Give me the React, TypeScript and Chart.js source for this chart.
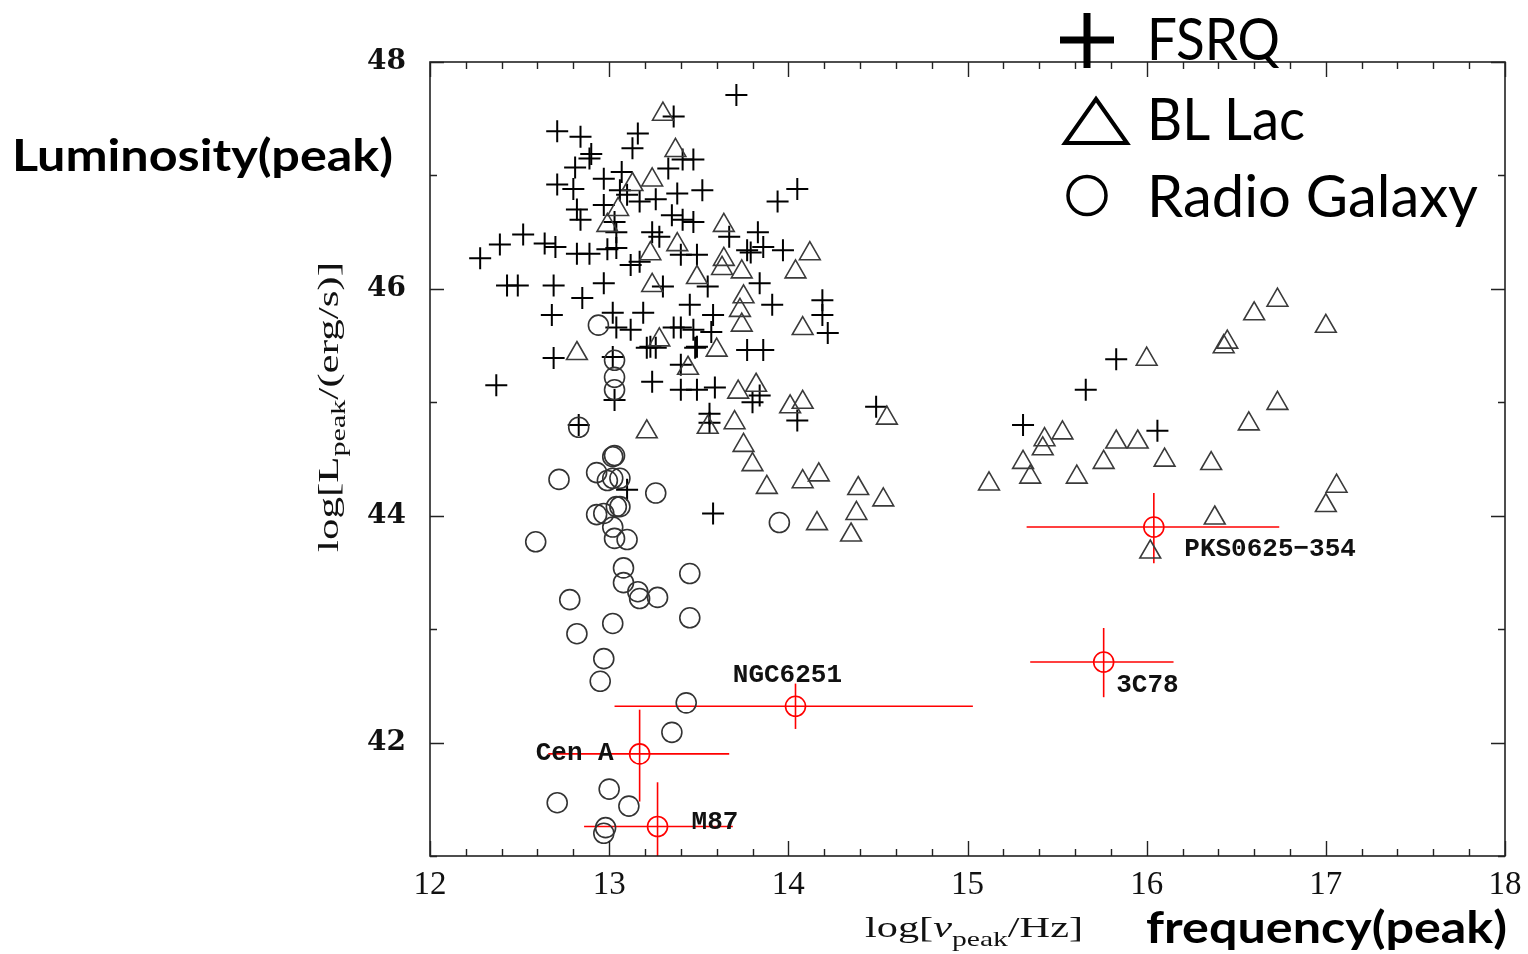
import React, { useEffect, useRef } from 'react';
import { Chart, registerables } from 'chart.js';

Chart.register(...registerables);

// ---------- axis ticks ----------
const xTickValues = [12, 13, 14, 15, 16, 17, 18];
const yTickValues = [42, 44, 46, 48];

// ---------- FSRQ (crosses) ----------
const fsrqPoints: [number, number][] = [
  [13.71, 47.71], [13.36, 47.52], [12.71, 47.39], [12.84, 47.34], [13.16, 47.37],
  [13.13, 47.24], [12.90, 47.19], [12.89, 47.15], [13.47, 47.14], [13.41, 47.14],
  [12.81, 47.07], [13.07, 47.03], [13.33, 47.06], [12.97, 46.97], [12.71, 46.92],
  [12.80, 46.88], [13.06, 46.87], [13.38, 46.84], [13.52, 46.87], [12.82, 46.70],
  [12.84, 46.61], [12.97, 46.74], [13.03, 46.59], [13.17, 46.77], [13.26, 46.79],
  [13.35, 46.65], [13.41, 46.61], [13.47, 46.59], [13.24, 46.50], [13.04, 46.50],
  [13.28, 46.46], [13.67, 46.46], [13.83, 46.50], [13.77, 46.34], [13.86, 46.37],
  [13.97, 46.34], [14.05, 46.88], [13.94, 46.77], [12.52, 46.48], [12.39, 46.39],
  [12.64, 46.40], [12.70, 46.37], [12.28, 46.27], [13.04, 46.36], [13.17, 46.24],
  [13.40, 46.30], [13.49, 46.30], [13.79, 46.32], [13.12, 46.21], [12.43, 46.03],
  [12.49, 46.03], [12.69, 46.03], [12.85, 45.92], [12.68, 45.77], [12.97, 46.05],
  [13.02, 45.79], [13.04, 45.66], [13.12, 45.64], [13.19, 45.79], [13.23, 45.49],
  [13.40, 45.66], [13.45, 45.86], [13.49, 45.49], [13.02, 45.40], [12.69, 45.39],
  [12.37, 45.15], [13.24, 45.18], [13.40, 45.11], [13.49, 45.11], [13.03, 45.02],
  [13.30, 46.02], [13.55, 46.02], [13.84, 46.05], [13.91, 45.86], [14.19, 45.90],
  [14.19, 45.77], [14.22, 45.61], [13.58, 45.77], [13.36, 45.66], [13.47, 45.64],
  [13.57, 45.62], [13.21, 45.48], [13.26, 45.48], [13.48, 45.48], [13.77, 45.46],
  [13.86, 45.46], [13.40, 45.33], [13.59, 45.13], [13.80, 45.00], [13.84, 45.06],
  [14.05, 44.84], [14.49, 44.96], [13.56, 44.90], [13.56, 44.82], [12.83, 44.80],
  [13.10, 44.23], [13.58, 44.02], [15.83, 45.38], [15.66, 45.11], [15.31, 44.80],
  [16.06, 44.75], [13.10, 46.83], [12.89, 46.31], [12.99, 46.35], [12.82, 46.31],
];

// ---------- BL Lac (triangles) ----------
const blLacPoints: [number, number][] = [
  [13.30, 47.54], [13.37, 47.22], [13.24, 46.96], [13.13, 46.92], [13.05, 46.70],
  [12.99, 46.56], [13.64, 46.56], [13.38, 46.39], [13.23, 46.31], [14.12, 46.31],
  [13.64, 46.26], [13.63, 46.18], [13.74, 46.15], [14.04, 46.15], [13.24, 46.03],
  [13.49, 46.10], [13.75, 45.93], [13.73, 45.81], [13.74, 45.68], [14.08, 45.65],
  [13.28, 45.55], [13.60, 45.46], [13.44, 45.30], [13.72, 45.09], [13.82, 45.15],
  [14.01, 44.96], [14.08, 45.00], [14.55, 44.86], [13.21, 44.74], [13.55, 44.78],
  [13.70, 44.82], [13.75, 44.62], [13.80, 44.45], [13.88, 44.25], [14.08, 44.30],
  [14.17, 44.36], [14.39, 44.24], [14.53, 44.14], [14.38, 44.02], [14.16, 43.93],
  [14.35, 43.83], [12.82, 45.43],
  [16.00, 45.38], [16.43, 45.49], [16.45, 45.53], [16.60, 45.78], [16.73, 45.90],
  [17.00, 45.67], [16.73, 44.99], [16.57, 44.81], [15.53, 44.73], [15.43, 44.67],
  [15.42, 44.59], [15.31, 44.47], [15.35, 44.34], [15.12, 44.28], [15.61, 44.34],
  [15.76, 44.47], [15.83, 44.65], [15.95, 44.65], [16.10, 44.49], [16.36, 44.46],
  [17.06, 44.26], [17.00, 44.09], [16.38, 43.98], [16.02, 43.68],
];

// ---------- Radio galaxies (circles) ----------
const radioGalaxyPoints: [number, number][] = [
  [12.94, 45.68], [13.03, 45.37], [13.03, 45.22], [13.03, 45.11], [12.83, 44.78],
  [12.72, 44.32], [12.93, 44.38], [13.02, 44.52], [13.03, 44.53], [12.99, 44.31],
  [13.02, 44.33], [13.06, 44.33], [13.26, 44.20], [12.93, 44.01], [12.97, 44.02],
  [13.04, 44.08], [13.06, 44.08], [13.02, 43.90], [13.03, 43.80], [13.10, 43.79],
  [12.59, 43.77], [13.08, 43.54], [13.08, 43.41], [13.16, 43.33], [13.17, 43.27],
  [13.27, 43.28], [13.45, 43.49], [12.78, 43.26], [13.45, 43.10], [13.02, 43.05],
  [12.82, 42.96], [12.97, 42.74], [12.95, 42.54], [13.43, 42.35], [13.35, 42.09],
  [12.71, 41.47], [13.00, 41.59], [13.11, 41.44], [12.98, 41.25], [12.97, 41.20],
  [13.95, 43.94],
];

// ---------- highlighted sources with error bars ----------
const srcNames = ['NGC6251', 'Cen A', 'M87', 'PKS0625\u2212354', '3C78'];
const srcX = [14.04, 13.17, 13.27, 16.04, 15.76];
const srcY = [42.32, 41.90, 41.26, 43.90, 42.71];
const srcXLo = [13.03, 12.66, 12.86, 15.33, 15.35];
const srcXHi = [15.03, 13.67, 13.69, 16.74, 16.15];
const srcYLo = [42.12, 41.48, 40.80, 43.58, 42.40];
const srcYHi = [42.52, 42.29, 41.65, 44.20, 43.01];
const labelX = [13.69, 12.59, 13.46, 16.21, 15.83];
const labelY = [42.59, 41.90, 41.30, 43.70, 42.50];

const legendLabels = ['FSRQ', 'BL Lac', 'Radio Galaxy'];

const SERIF = "'Liberation Serif', 'DejaVu Serif', serif";
const SANS = "Lato, 'Open Sans', 'Noto Sans', sans-serif";
const RED = 'rgb(255,0,0)';

type Part = { t: string; f: string; dy?: number };

function drawParts(ctx: CanvasRenderingContext2D, parts: Part[], x: number, y: number, targetW: number, align: 'left' | 'center') {
  ctx.save();
  ctx.textBaseline = 'alphabetic';
  ctx.textAlign = 'left';
  let w = 0;
  const widths = parts.map((p) => {
    ctx.font = p.f;
    const m = ctx.measureText(p.t).width;
    w += m;
    return m;
  });
  const sx = targetW / w;
  ctx.translate(align === 'center' ? x - targetW / 2 : x, y);
  ctx.scale(sx, 1);
  let cx = 0;
  parts.forEach((p, i) => {
    ctx.font = p.f;
    ctx.fillText(p.t, cx, p.dy || 0);
    cx += widths[i];
  });
  ctx.restore();
}

const decorPlugin = {
  id: 'decor',
  afterDraw(chart: any) {
    const ctx: CanvasRenderingContext2D = chart.ctx;
    const { left, right, top, bottom } = chart.chartArea;
    const xs = chart.scales.x;
    const ys = chart.scales.y;
    ctx.save();
    // frame
    ctx.strokeStyle = '#222';
    ctx.lineWidth = 1.6;
    ctx.strokeRect(left, top, right - left, bottom - top);
    // inward ticks
    ctx.lineWidth = 1.4;
    ctx.beginPath();
    for (let i = 0; i <= 30; i++) {
      const v = 12 + i * 0.2;
      const px = Math.round(xs.getPixelForValue(v)) + 0.5;
      const len = i % 5 === 0 ? 15 : 7;
      ctx.moveTo(px, bottom);
      ctx.lineTo(px, bottom - len);
      ctx.moveTo(px, top);
      ctx.lineTo(px, top + len);
    }
    for (let v = 41; v <= 48; v++) {
      const py = Math.round(ys.getPixelForValue(v)) + 0.5;
      const len = v % 2 === 0 ? 14 : 7;
      ctx.moveTo(left, py);
      ctx.lineTo(left + len, py);
      ctx.moveTo(right, py);
      ctx.lineTo(right - len, py);
    }
    ctx.stroke();

    // source labels
    ctx.fillStyle = '#111';
    ctx.font = `bold 26px 'Liberation Mono', 'DejaVu Sans Mono', monospace`;
    ctx.textAlign = 'left';
    ctx.textBaseline = 'middle';
    srcNames.forEach((n, i) => {
      ctx.fillText(n, xs.getPixelForValue(labelX[i]), ys.getPixelForValue(labelY[i]));
    });

    // axis titles (with subscripts)
    ctx.fillStyle = '#111';
    ctx.save();
    ctx.translate(338, 407);
    ctx.rotate(-Math.PI / 2);
    drawParts(ctx, [
      { t: 'log[L', f: `30px ${SERIF}` },
      { t: 'peak', f: `21px ${SERIF}`, dy: 7 },
      { t: '/(erg/s)]', f: `30px ${SERIF}` },
    ], 0, 0, 290, 'center');
    ctx.restore();
    drawParts(ctx, [
      { t: 'log[', f: `30px ${SERIF}` },
      { t: '\u03BD', f: `italic 30px ${SERIF}` },
      { t: 'peak', f: `21px ${SERIF}`, dy: 9 },
      { t: '/Hz]', f: `30px ${SERIF}` },
    ], 865, 937, 218, 'left');

    // bold annotations
    ctx.fillStyle = '#000';
    drawParts(ctx, [{ t: 'Luminosity(peak)', f: `bold 44px ${SANS}` }], 12, 171, 381, 'left');
    drawParts(ctx, [{ t: 'frequency(peak)', f: `bold 44px ${SANS}` }], 1146, 943, 361, 'left');

    // legend
    ctx.strokeStyle = '#000';
    ctx.lineCap = 'butt';
    ctx.lineWidth = 7;
    ctx.beginPath();
    ctx.moveTo(1060, 40); ctx.lineTo(1114, 40);
    ctx.moveTo(1087, 13); ctx.lineTo(1087, 68);
    ctx.stroke();
    ctx.lineWidth = 4;
    ctx.lineJoin = 'miter';
    ctx.beginPath();
    ctx.moveTo(1096, 99); ctx.lineTo(1127, 143); ctx.lineTo(1065, 143); ctx.closePath();
    ctx.stroke();
    ctx.lineWidth = 3.5;
    ctx.beginPath();
    ctx.arc(1087, 195.5, 19, 0, Math.PI * 2);
    ctx.stroke();
    ctx.fillStyle = '#000';
    drawParts(ctx, [{ t: legendLabels[0], f: `58px ${SANS}` }], 1147, 60, 133, 'left');
    drawParts(ctx, [{ t: legendLabels[1], f: `58px ${SANS}` }], 1147, 140, 158, 'left');
    drawParts(ctx, [{ t: legendLabels[2], f: `58px ${SANS}` }], 1147, 217, 331, 'left');
    ctx.restore();
  },
};

export default function App() {
  const ref = useRef<HTMLCanvasElement | null>(null);
  useEffect(() => {
    if (!ref.current) return;
    const toXY = (arr: [number, number][]) => arr.map(([x, y]) => ({ x, y }));
    const errorSets: any[] = [];
    srcNames.forEach((_, i) => {
      errorSets.push({
        type: 'scatter', label: 'xerr' + i, showLine: true,
        data: [{ x: srcXLo[i], y: srcY[i] }, { x: srcXHi[i], y: srcY[i] }],
        borderColor: RED, borderWidth: 1.6, pointRadius: 0,
      });
      errorSets.push({
        type: 'scatter', label: 'yerr' + i, showLine: true,
        data: [{ x: srcX[i], y: srcYLo[i] }, { x: srcX[i], y: srcYHi[i] }],
        borderColor: RED, borderWidth: 1.6, pointRadius: 0,
      });
    });
    const chart = new Chart(ref.current, {
      type: 'scatter',
      data: {
        datasets: [
          {
            label: 'Radio Galaxy', data: toXY(radioGalaxyPoints), pointStyle: 'circle',
            pointRadius: 10, borderColor: '#333', borderWidth: 1.6, backgroundColor: 'rgba(0,0,0,0)',
          },
          {
            label: 'BL Lac', data: toXY(blLacPoints), pointStyle: 'triangle',
            pointRadius: 12, borderColor: '#3a3a3a', borderWidth: 1.6, backgroundColor: 'rgba(0,0,0,0)',
          },
          {
            label: 'FSRQ', data: toXY(fsrqPoints), pointStyle: 'cross',
            pointRadius: 11, borderColor: '#000', borderWidth: 2, backgroundColor: 'rgba(0,0,0,0)',
          },
          ...errorSets,
          {
            label: 'sources', data: srcX.map((x, i) => ({ x, y: srcY[i] })), pointStyle: 'circle',
            pointRadius: 10, borderColor: RED, borderWidth: 1.6, backgroundColor: 'rgba(0,0,0,0)',
          },
        ],
      },
      options: {
        responsive: false,
        animation: false,
        devicePixelRatio: 1,
        layout: { padding: { top: 62, right: 23, left: 0, bottom: 0 } },
        plugins: { legend: { display: false }, tooltip: { enabled: false } },
        scales: {
          x: {
            type: 'linear', min: 12, max: 18, position: 'bottom',
            grid: { display: false, drawTicks: false },
            border: { display: false },
            ticks: {
              color: '#111', padding: 10,
              font: { family: "'Liberation Serif', serif", size: 33 },
              callback: (v: any) => String(v),
            },
            afterBuildTicks: (s: any) => { s.ticks = xTickValues.map((value) => ({ value })); },
            afterFit: (s: any) => { s.height = 98; s.paddingLeft = 0; s.paddingRight = 0; },
          },
          y: {
            type: 'linear', min: 41, max: 48, position: 'left',
            grid: { display: false, drawTicks: false },
            border: { display: false },
            ticks: {
              color: '#111', padding: 24,
              font: { family: "'DejaVu Serif', serif", size: 28, weight: 'bold' },
              callback: (v: any) => String(v),
            },
            afterBuildTicks: (s: any) => { s.ticks = yTickValues.map((value) => ({ value })); },
            afterFit: (s: any) => { s.width = 430; s.paddingTop = 0; s.paddingBottom = 0; },
          },
        },
      } as any,
      plugins: [decorPlugin],
    });
    return () => chart.destroy();
  }, []);
  return (
    <div style={{ position: 'fixed', left: 0, top: 0, width: 1528, height: 954, background: '#fff' }}>
      <canvas ref={ref} width={1528} height={954} style={{ display: 'block' }} />
    </div>
  );
}
